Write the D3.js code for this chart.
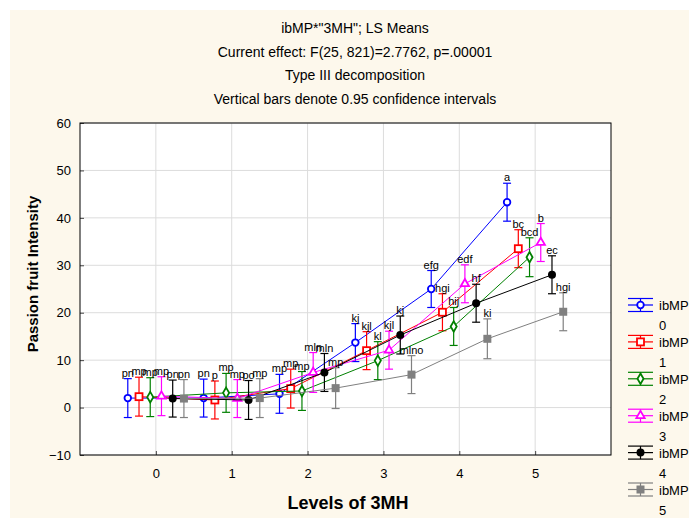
<!DOCTYPE html>
<html>
<head>
<meta charset="utf-8">
<script src="https://d3js.org/d3.v7.min.js"></script>
<style>
body { margin: 0; background: #fff; }
text { font-family: "Liberation Sans", Arial, sans-serif; }
</style>
</head>
<body>
<script>
// levels of 3MH (x categories)
var levels = [0, 1, 2, 3, 4, 5];
var seriesNames = ["0", "1", "2", "3", "4", "5"];
var seriesColors = ["#0000ff", "#ff0000", "#008000", "#ff00ff", "#000000", "#808080"];
var seriesShapes = ["circle", "square", "diamond", "triangle", "dot", "fsquare"];

// LS means per ibMP level
var mean0 = [2.0, 2.0, 2.9, 13.7, 25.0, 43.3];
var mean1 = [2.3, 1.6, 4.0, 12.0, 20.1, 33.5];
var mean2 = [2.2, 3.1, 3.5, 9.9, 17.1, 31.7];
var mean3 = [2.4, 1.9, 7.4, 12.1, 26.1, 34.8];
var mean4 = [1.9, 1.6, 7.4, 15.3, 22.0, 28.0];
var mean5 = [1.9, 2.0, 4.1, 6.95, 14.5, 20.2];

// 0.95 CI half widths
var ci0 = [4.1, 4.0, 4.1, 4.0, 3.9, 4.0];
var ci1 = [4.1, 4.0, 4.1, 4.0, 3.9, 4.0];
var ci2 = [4.1, 4.1, 4.1, 4.0, 4.0, 4.1];
var ci3 = [4.1, 4.0, 4.2, 4.0, 4.0, 4.0];
var ci4 = [3.9, 4.1, 4.0, 4.0, 4.0, 4.0];
var ci5 = [4.0, 4.1, 4.3, 4.0, 4.2, 4.0];

// letter groupings
var lab0 = ["pn", "pn", "mp", "kj", "efg", "a"];
var lab1 = ["mp", "p", "mp", "kjl", "hgi", "bc"];
var lab2 = ["mp", "mp", "mp", "kl", "hij", "bcd"];
var lab3 = ["mp", "mp", "mln", "kjl", "edf", "b"];
var lab4 = ["pn", "po", "mln", "kj", "hf", "ec"];
var lab5 = ["pn", "mp", "mp", "mlno", "ki", "hgi"];

var yTicks = [-10, 0, 10, 20, 30, 40, 50, 60];
var titleLines = ["ibMP*\"3MH\"; LS Means",
  "Current effect: F(25, 821)=2.7762, p=.00001",
  "Type III decomposition",
  "Vertical bars denote 0.95 confidence intervals"];

var means = [mean0, mean1, mean2, mean3, mean4, mean5];
var cis = [ci0, ci1, ci2, ci3, ci4, ci5];
var labs = [lab0, lab1, lab2, lab3, lab4, lab5];

var W = 689, H = 518;
var pL = 80, pR = 611, pT = 123, pB = 455;

var svg = d3.select("body").append("svg")
  .attr("width", W).attr("height", H);

// cream background
svg.append("rect").attr("x", 10).attr("y", 10)
  .attr("width", W - 10).attr("height", H - 10)
  .attr("fill", "#fdf8ec");

var x = d3.scaleLinear().domain([-1, 6]).range([pL, pR]);
var y = d3.scaleLinear().domain([-10, 60]).range([pB, pT]);

svg.append("rect").attr("x", pL).attr("y", pT)
  .attr("width", pR - pL).attr("height", pB - pT)
  .attr("fill", "#fff");

// grid
svg.append("g").selectAll("line").data(levels).join("line")
  .attr("x1", d => x(d)).attr("x2", d => x(d))
  .attr("y1", pT).attr("y2", pB)
  .attr("stroke", "#dcdcdc").attr("stroke-width", 1);
svg.append("g").selectAll("line").data(yTicks).join("line")
  .attr("x1", pL).attr("x2", pR)
  .attr("y1", d => y(d)).attr("y2", d => y(d))
  .attr("stroke", "#dcdcdc").attr("stroke-width", 1);

// axes
var xAxis = d3.axisBottom(x).tickValues(levels).tickFormat(d3.format("d")).tickSize(-4).tickPadding(14);
var yAxis = d3.axisLeft(y).tickValues(yTicks).tickFormat(d3.format("d")).tickSize(-4).tickPadding(9);
var gx = svg.append("g").attr("transform", "translate(0," + pB + ")").call(xAxis);
var gy = svg.append("g").attr("transform", "translate(" + pL + ",0)").call(yAxis);
[gx, gy].forEach(function(g) {
  g.select(".domain").remove();
  g.selectAll("text").attr("font-size", "13px").attr("fill", "#000")
    .style("font-family", "'Liberation Sans', Arial, sans-serif");
  g.selectAll("line").attr("stroke", "#444");
});

svg.append("rect").attr("x", pL).attr("y", pT)
  .attr("width", pR - pL).attr("height", pB - pT)
  .attr("fill", "none").attr("stroke", "#000").attr("stroke-width", 1);

// titles
svg.append("g").selectAll("text").data(titleLines).join("text")
  .attr("x", 355).attr("y", (d, i) => 33 + i * 23.7)
  .attr("text-anchor", "middle").attr("font-size", "14px")
  .text(d => d);

svg.append("text").attr("x", 348).attr("y", 509)
  .attr("text-anchor", "middle").attr("font-size", "18px")
  .attr("font-weight", "bold").text("Levels of 3MH");
svg.append("text")
  .attr("transform", "translate(38,274) rotate(-90)")
  .attr("text-anchor", "middle").attr("font-size", "15px")
  .attr("font-weight", "bold").text("Passion fruit Intensity");

function offset(s) { return (s - 2.5) * 0.148; }

function drawMarker(g, shape, color, cx, cy) {
  if (shape === "circle") {
    g.append("circle").attr("cx", cx).attr("cy", cy).attr("r", 3.3)
      .attr("fill", "#fff").attr("stroke", color).attr("stroke-width", 1.8);
  } else if (shape === "square") {
    g.append("rect").attr("x", cx - 3.5).attr("y", cy - 3.5).attr("width", 7).attr("height", 7)
      .attr("fill", "#fff").attr("stroke", color).attr("stroke-width", 1.8);
  } else if (shape === "diamond") {
    g.append("path").attr("d", d3.symbol(d3.symbolDiamond, 32)())
      .attr("transform", "translate(" + cx + "," + cy + ")")
      .attr("fill", "#fff").attr("stroke", color).attr("stroke-width", 1.8);
  } else if (shape === "triangle") {
    g.append("path").attr("d", d3.symbol(d3.symbolTriangle, 30)())
      .attr("transform", "translate(" + cx + "," + cy + ")")
      .attr("fill", "#fff").attr("stroke", color).attr("stroke-width", 1.8);
  } else if (shape === "dot") {
    g.append("circle").attr("cx", cx).attr("cy", cy).attr("r", 4)
      .attr("fill", color);
  } else {
    g.append("rect").attr("x", cx - 4).attr("y", cy - 4).attr("width", 8).attr("height", 8)
      .attr("fill", color);
  }
}

var plot = svg.append("g");
means.forEach(function(m, s) {
  var color = seriesColors[s];
  var pts = levels.map((lv, i) => ({ lv: lv, v: m[i], ci: cis[s][i], lab: labs[s][i] }));
  var g = plot.append("g");
  g.append("path").datum(pts)
    .attr("d", d3.line().x(d => x(d.lv + offset(s))).y(d => y(d.v)))
    .attr("fill", "none").attr("stroke", color).attr("stroke-width", 1);
  pts.forEach(function(d) {
    var cx = x(d.lv + offset(s));
    var y1 = y(d.v + d.ci), y0 = y(d.v - d.ci);
    g.append("line").attr("x1", cx).attr("x2", cx).attr("y1", y1).attr("y2", y0)
      .attr("stroke", color).attr("stroke-width", 1.2);
    [y1, y0].forEach(function(yy) {
      g.append("line").attr("x1", cx - 4).attr("x2", cx + 4).attr("y1", yy).attr("y2", yy)
        .attr("stroke", color).attr("stroke-width", 1.2);
    });
  });
  pts.forEach(function(d) {
    drawMarker(g, seriesShapes[s], color, x(d.lv + offset(s)), y(d.v));
  });
});

// letter labels on top
means.forEach(function(m, s) {
  levels.forEach(function(lv, i) {
    plot.append("text")
      .attr("x", x(lv + offset(s))).attr("y", y(m[i] + cis[s][i]) - 2)
      .attr("text-anchor", "middle").attr("font-size", "11px")
      .text(labs[s][i]);
  });
});

// legend
var leg = svg.append("g");
seriesNames.forEach(function(name, s) {
  var cy = 305 + s * 36.9, color = seriesColors[s];
  [cy - 6.5, cy, cy + 6.5].forEach(function(yy) {
    leg.append("line").attr("x1", 628).attr("x2", 653).attr("y1", yy).attr("y2", yy)
      .attr("stroke", color).attr("stroke-width", 1.2);
  });
  leg.append("line").attr("x1", 640.5).attr("x2", 640.5).attr("y1", cy - 6.5).attr("y2", cy + 6.5)
    .attr("stroke", color).attr("stroke-width", 1.2);
  drawMarker(leg, seriesShapes[s], color, 640.5, cy);
  leg.append("text").attr("x", 659).attr("y", cy + 5).attr("font-size", "13px").text("ibMP");
  leg.append("text").attr("x", 659).attr("y", cy + 25).attr("font-size", "13px").text(name);
});
</script>
</body>
</html>
